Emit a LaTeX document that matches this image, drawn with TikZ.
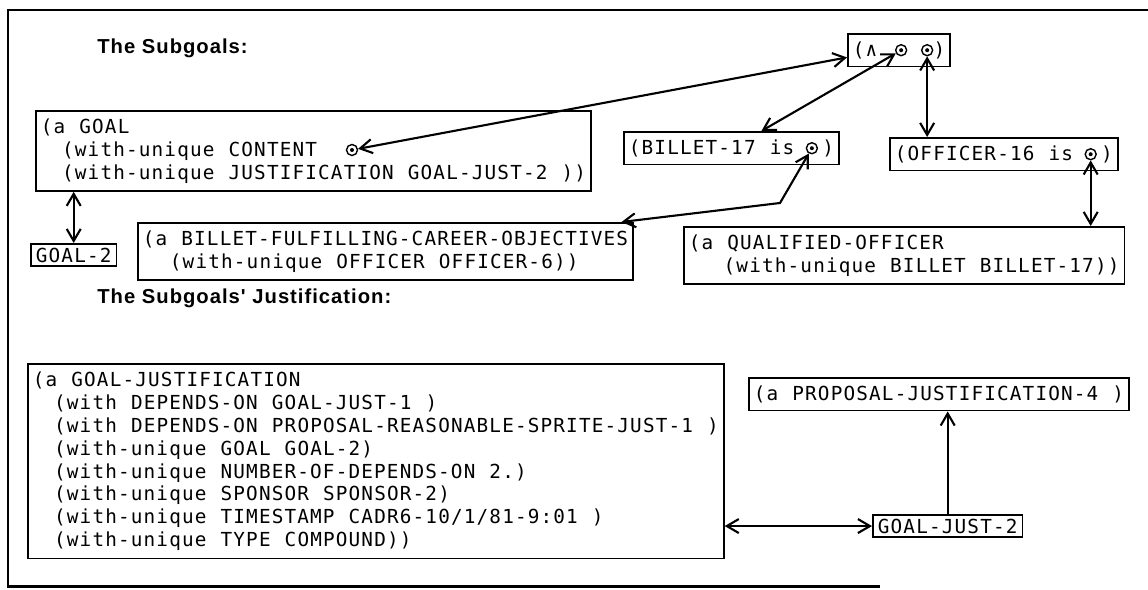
\documentclass[tikz,border=0pt]{standalone}
\usepackage{fontspec}
\usepackage{tikz}
\usetikzlibrary{arrows.meta}
\newfontfamily\lispfont[LetterSpace=6,WordSpace=1.1]{DejaVu Sans Mono}
\newfontfamily\headfont[LetterSpace=5]{Liberation Sans}
\def\ind#1{\hspace*{#1em}}
\tikzset{
	lisp/.style={draw, line width=1pt, anchor=north west, align=left, inner xsep=0.1cm, inner ysep=4.4pt, font=\lispfont\fontsize{11}{13.05}\selectfont},
	tag/.style={lisp, inner ysep=2.2pt},
	slot/.style={circle, draw, line width=0.8pt, inner sep=0pt, minimum size=0.22cm, path picture={\fill (path picture bounding box.center) circle (0.04);}},
	head/.style={anchor=west, inner sep=0pt, font=\headfont\bfseries\fontsize{11.5}{13}\selectfont},
	link/.style={line width=1.2pt, >={Straight Barb[length=2.4mm,width=2.8mm]}},
}

\begin{document}
\begin{tikzpicture}
	%%%%% START %%%%%
	\useasboundingbox (0, 0) rectangle (22.96, 11.78);
	
	\draw[line width=1.3pt] (22.96, 11.58) -- (0.16, 11.58) -- (0.16, 0.05) -- (17.6, 0.05);
	
	\node[head] (hsub) at (1.94, 10.82) {The Subgoals:};
	\node[head] (hjust) at (1.94, 5.82) {The Subgoals' Justification:};
	
	\node[lisp] (goal) at (0.70, 9.58) {(a GOAL\\ \ind{1.1}(with-unique CONTENT\\ \ind{1.1}(with-unique JUSTIFICATION GOAL-JUST-2 ))};
	\node[tag] (goaltwo) at (0.60, 6.92) {GOAL-2};
	\node[lisp] (bfco) at (2.74, 7.34) {(a BILLET-FULFILLING-CAREER-OBJECTIVES\\ \ind{1.4}(with-unique OFFICER OFFICER-6))};
	
	\node[lisp] (conj) at (16.94, 11.12) {(∧~~~~)};
	\node[lisp] (billet) at (12.46, 9.16) {(BILLET-17 is~~)};
	\node[lisp] (officer) at (17.78, 9.04) {(OFFICER-16 is~~)};
	\node[lisp] (qual) at (13.66, 7.26) {(a QUALIFIED-OFFICER\\ \ind{1.8}(with-unique BILLET BILLET-17))};
	
	\node[lisp] (gjust) at (0.54, 4.52) {(a GOAL-JUSTIFICATION\\
		\ind{1.1}(with DEPENDS-ON GOAL-JUST-1 )\\
		\ind{1.1}(with DEPENDS-ON PROPOSAL-REASONABLE-SPRITE-JUST-1 )\\
		\ind{1.1}(with-unique GOAL GOAL-2)\\
		\ind{1.1}(with-unique NUMBER-OF-DEPENDS-ON 2.)\\
		\ind{1.1}(with-unique SPONSOR SPONSOR-2)\\
		\ind{1.1}(with-unique TIMESTAMP CADR6-10/1/81-9:01 )\\
		\ind{1.1}(with-unique TYPE COMPOUND))};
	\node[lisp] (prop) at (14.96, 4.24) {(a PROPOSAL-JUSTIFICATION-4 )};
	\node[tag] (gjtwo) at (17.44, 1.50) {GOAL-JUST-2};
	
	% the pointer slots
	\node[slot] (cont) at (7.04, 8.78) {};
	\node[slot] (andl) at ([xshift=-1.0cm]conj.east) {};
	\node[slot] (andr) at ([xshift=-0.48cm]conj.east) {};
	\node[slot] (bval) at ([xshift=-0.56cm]billet.east) {};
	\node[slot] (oval) at ([xshift=-0.56cm]officer.east) {};
	\coordinate (bend) at (15.60, 7.72);
	
	\draw[link, <->] (goaltwo.north) -- (goaltwo.north |- goal.south);
	\draw[link, <->] (cont) -- ([yshift=0.2cm]conj.south west);
	\draw[link, <->] (andl) -- ([xshift=0.6cm]billet.north);
	\draw[link, <->] (andr) -- (andr |- officer.north);
	\draw[link, <->] (bval) -- (bend) -- ([xshift=-0.25cm]bfco.north east);
	\draw[link, <->] (oval) -- (oval |- qual.north);
	\draw[link, <->] (gjtwo.west) -- (gjtwo.west -| gjust.east);
	\draw[link, ->] (gjtwo.north) -- (gjtwo.north |- prop.south);
	
	%%%%% END %%%%%
\end{tikzpicture}
\end{document}
